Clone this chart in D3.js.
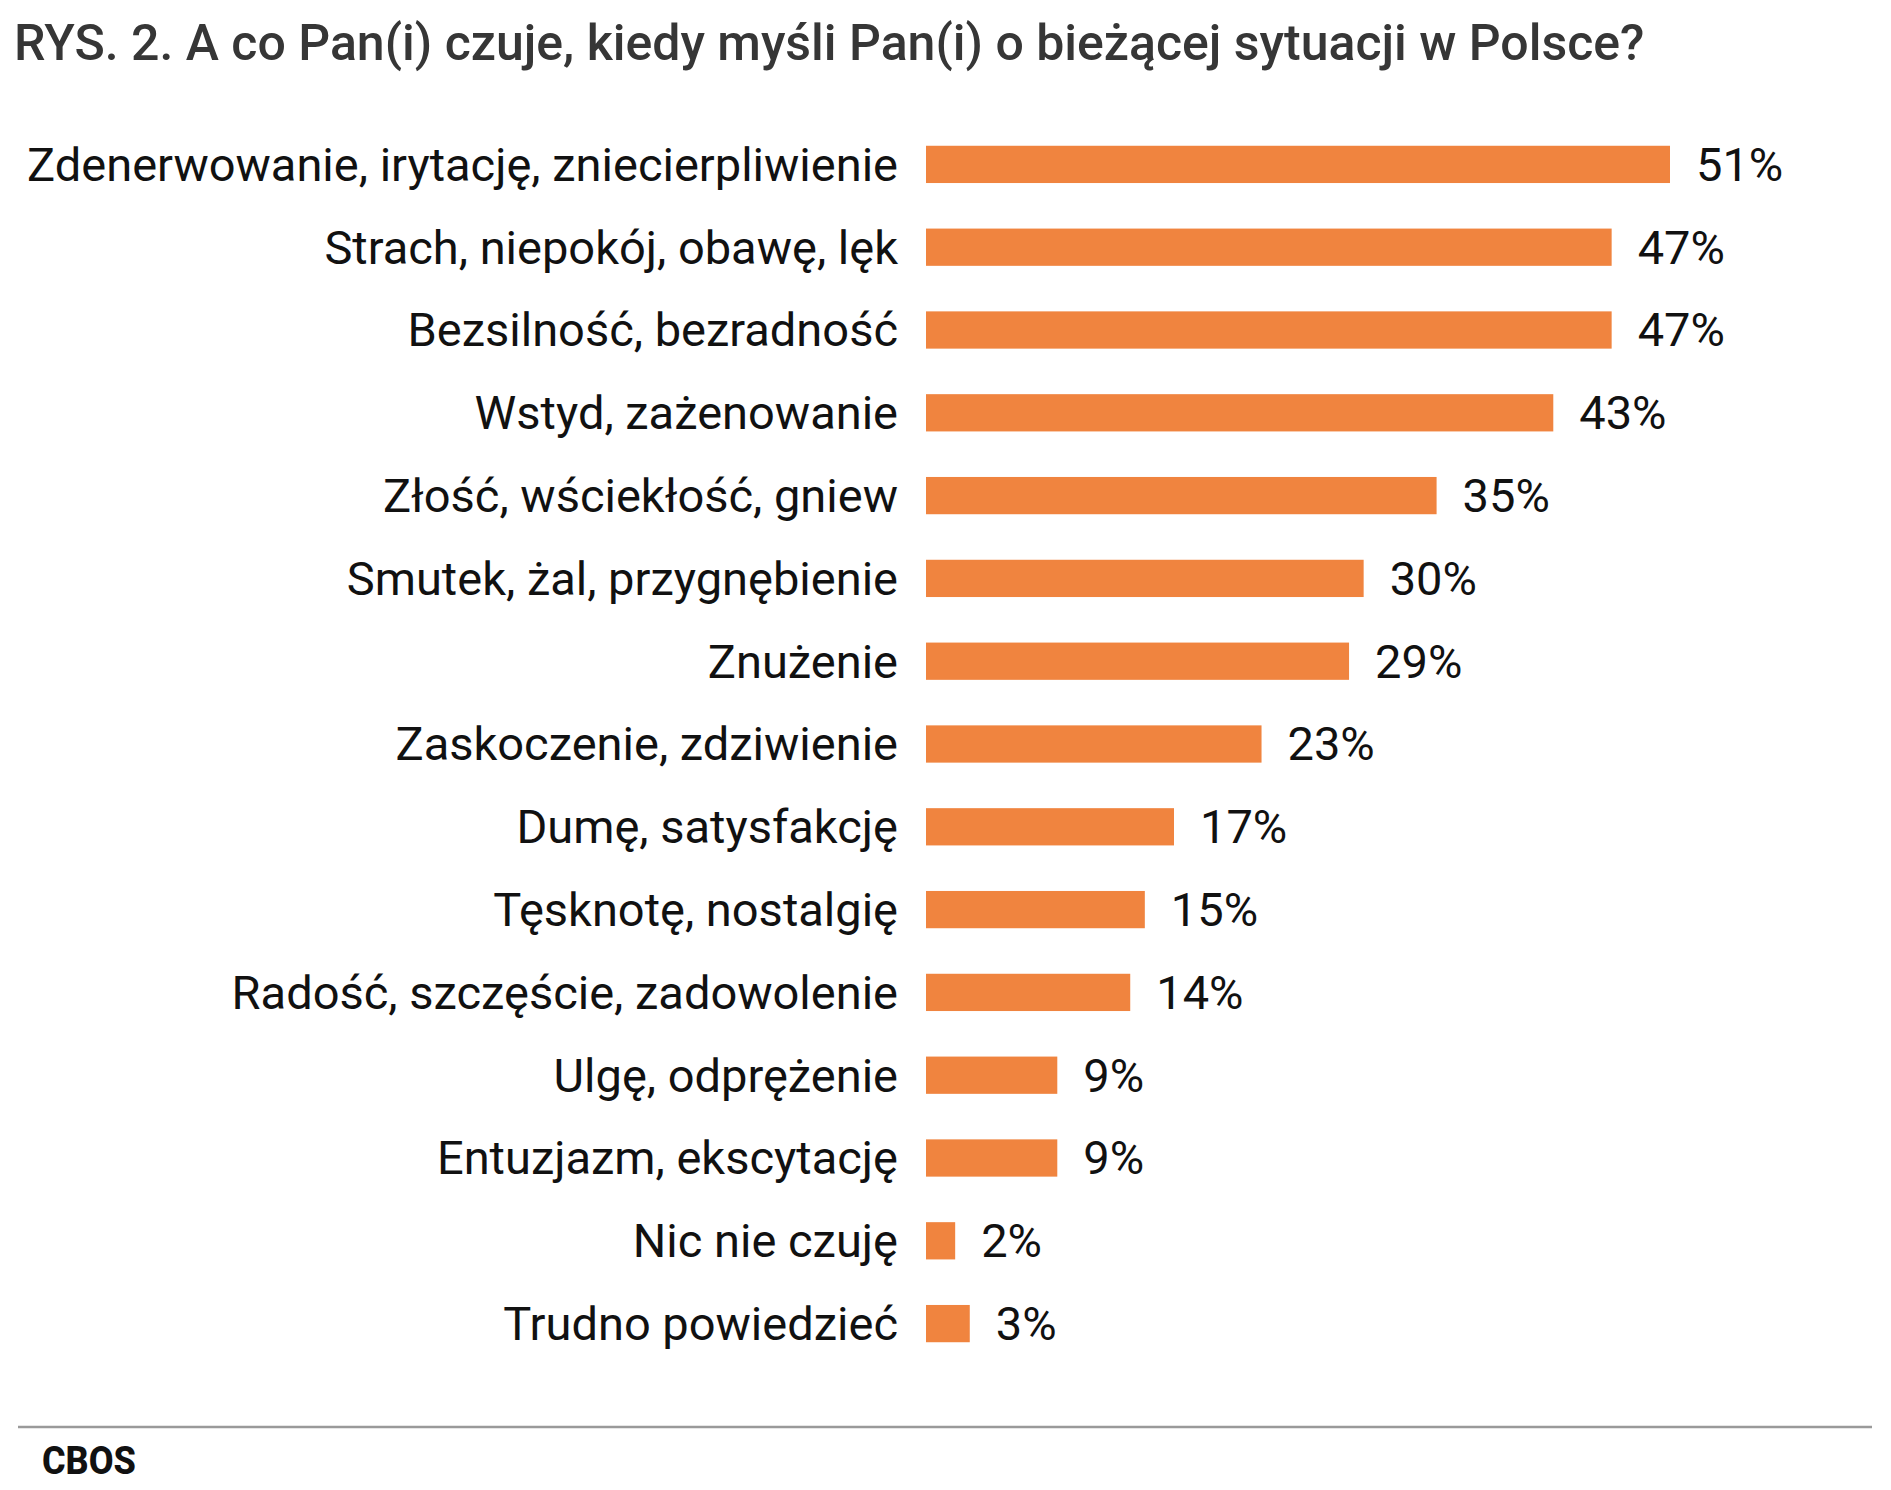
<!DOCTYPE html>
<html>
<head>
<meta charset="utf-8">
<script src="https://cdn.jsdelivr.net/npm/d3@7"></script>
<style>
  body { margin: 0; background: #fff; }
  text { font-family: Roboto, "Noto Sans", sans-serif; }
</style>
</head>
<body>
<div id="vis"></div>
<script>
// rozmiar
var width = 1891;
var height = 1490;

// dane
var categories = [
  'Zdenerwowanie, irytację, zniecierpliwienie',
  'Strach, niepokój, obawę, lęk',
  'Bezsilność, bezradność',
  'Wstyd, zażenowanie',
  'Złość, wściekłość, gniew',
  'Smutek, żal, przygnębienie',
  'Znużenie',
  'Zaskoczenie, zdziwienie',
  'Dumę, satysfakcję',
  'Tęsknotę, nostalgię',
  'Radość, szczęście, zadowolenie',
  'Ulgę, odprężenie',
  'Entuzjazm, ekscytację',
  'Nic nie czuję',
  'Trudno powiedzieć'
];
var values = [51, 47, 47, 43, 35, 30, 29, 23, 17, 15, 14, 9, 9, 2, 3];

var title = 'RYS. 2. A co Pan(i) czuje, kiedy myśli Pan(i) o bieżącej sytuacji w Polsce?';
var source = 'CBOS';

var barColor = '#f0843f';

var svg = d3.select('#vis').append('svg')
    .attr('width', width)
    .attr('height', height);

// skale
var x = d3.scaleLinear().domain([0, 51]).range([926, 1670]);
var y = d3.scaleBand().domain(categories).range([123, 1365]).paddingInner(0.55).paddingOuter(0.275);

// tytuł
svg.append('text')
    .attr('x', 14)
    .attr('y', 60)
    .attr('font-size', 50)
    .attr('font-weight', 500)
    .attr('fill', '#363636')
    .text(title);

// słupki
svg.selectAll('.bar')
    .data(values)
    .enter().append('rect')
    .attr('class', 'bar')
    .attr('x', x(0))
    .attr('y', function (d, i) { return y(categories[i]); })
    .attr('width', function (d) { return x(d) - x(0); })
    .attr('height', y.bandwidth())
    .attr('fill', barColor);

// etykiety kategorii
svg.selectAll('.cat')
    .data(categories)
    .enter().append('text')
    .attr('class', 'cat')
    .attr('x', 898)
    .attr('y', function (d) { return y(d) + y.bandwidth() / 2; })
    .attr('dy', '0.35em')
    .attr('text-anchor', 'end')
    .attr('font-size', 47)
    .attr('fill', '#111')
    .text(function (d) { return d; });

// wartości
svg.selectAll('.val')
    .data(values)
    .enter().append('text')
    .attr('class', 'val')
    .attr('x', function (d) { return x(d) + 26; })
    .attr('y', function (d, i) { return y(categories[i]) + y.bandwidth() / 2; })
    .attr('dy', '0.35em')
    .attr('font-size', 47)
    .attr('fill', '#111')
    .text(function (d) { return d + '%'; });

// linia i źródło
svg.append('line')
    .attr('x1', 18).attr('x2', 1872)
    .attr('y1', 1427).attr('y2', 1427)
    .attr('stroke', '#9a9a9a')
    .attr('stroke-width', 2.5);

svg.append('text')
    .attr('x', 42)
    .attr('y', 1474)
    .attr('font-family', '"Open Sans", sans-serif')
    .attr('font-size', 38)
    .attr('font-weight', 800)
    .attr('fill', '#111')
    .attr('textLength', 94)
    .attr('lengthAdjust', 'spacingAndGlyphs')
    .text(source);
</script>
</body>
</html>
